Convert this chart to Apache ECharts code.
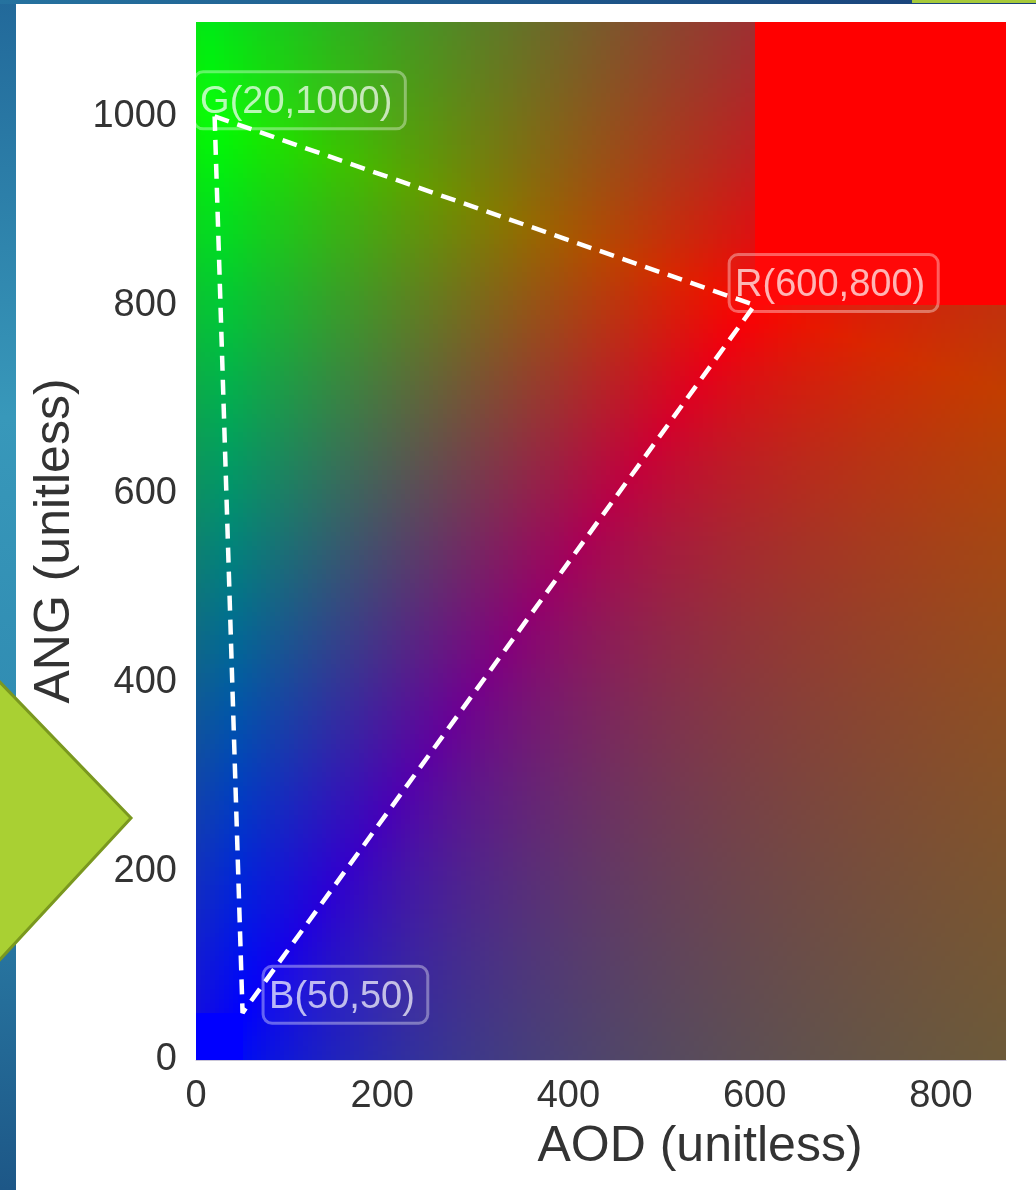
<!DOCTYPE html>
<html>
<head>
<meta charset="utf-8">
<script src="https://cdn.jsdelivr.net/npm/echarts@6/dist/echarts.min.js"></script>
<style>
    html, body { margin: 0; padding: 0; background: #fff; }
    #chart { width: 1036px; height: 1190px; }
</style>
</head>
<body>
<div id="chart"></div>
<script>
    // anchor points of the colour triangle
    const pointNames = ['G', 'R', 'B'];
    const aodValues = [20, 600, 50];
    const angValues = [1000, 800, 50];

    // axis ranges
    const aodMax = 870;
    const angMax = 1100;
    const tickStep = 200;

    const FONT = 'Liberation Sans';
    const CELL = 5;

    // colour of a point from its position relative to G, R, B
    function fieldColor(x, y) {
        const [gx, rx, bx] = aodValues;
        const [gy, ry, by] = angValues;
        if (x >= rx && y >= ry) return 'rgb(255,0,0)';
        if (x <= bx && y <= by) return 'rgb(0,0,255)';
        const det = (rx - bx) * (gy - by) - (ry - by) * (gx - bx);
        const px = x - bx, py = y - by;
        const r = (px * (gy - by) - py * (gx - bx)) / det;
        const g = ((rx - bx) * py - (ry - by) * px) / det;
        const wr = Math.abs(r), wg = Math.abs(g), wb = Math.abs(1 - r - g);
        const s = wr + wg + wb;
        return 'rgb(' + Math.round(255 * wr / s) + ',' + Math.round(255 * wg / s) + ',' + Math.round(255 * wb / s) + ')';
    }

    const cells = [];
    for (let x = 0; x < aodMax; x += CELL) {
        for (let y = 0; y < angMax; y += CELL) {
            cells.push([x, y]);
        }
    }

    const trianglePath = [0, 1, 2, 0].map(i => [aodValues[i], angValues[i]]);

    // label box placement (pixels, relative to the point)
    const labelOffsets = { G: [-20, 13], R: [-25, 7], B: [21, 11] };

    const chart = echarts.init(document.getElementById('chart'));

    const option = {
        animation: false,
        grid: { left: 196, right: 30, top: 22, bottom: 130 },
        xAxis: {
            type: 'value',
            min: 0,
            max: aodMax,
            interval: tickStep,
            name: 'AOD (unitless)',
            nameLocation: 'middle',
            nameGap: 62,
            nameTextStyle: { fontFamily: FONT, fontSize: 50, color: '#333', padding: [0, 0, 0, 198] },
            axisLine: { show: true, lineStyle: { color: '#cac6d8', width: 1 } },
            axisTick: { show: false },
            splitLine: { show: false },
            axisLabel: { fontFamily: FONT, fontSize: 38, color: '#333', margin: 18, showMaxLabel: false, formatter: v => String(v) }
        },
        yAxis: {
            type: 'value',
            min: 0,
            max: angMax,
            interval: tickStep,
            name: 'ANG (unitless)',
            nameLocation: 'middle',
            nameGap: 116,
            nameTextStyle: { fontFamily: FONT, fontSize: 50, color: '#333' },
            axisLine: { show: false },
            axisTick: { show: false },
            splitLine: { show: false },
            axisLabel: { fontFamily: FONT, fontSize: 38, color: '#333', margin: 19, showMaxLabel: false, formatter: v => String(v) }
        },
        series: [
            {
                type: 'custom',
                data: cells,
                progressive: 0,
                silent: true,
                clip: true,
                renderItem: function (params, api) {
                    const x0 = api.value(0);
                    const y0 = api.value(1);
                    const p0 = api.coord([x0, y0 + CELL]);
                    const p1 = api.coord([x0 + CELL, y0]);
                    const left = Math.round(p0[0]);
                    const top = Math.round(p0[1]);
                    return {
                        type: 'rect',
                        shape: { x: left, y: top, width: Math.round(p1[0]) - left, height: Math.round(p1[1]) - top },
                        style: { fill: fieldColor(x0 + CELL / 2, y0 + CELL / 2) }
                    };
                }
            },
            {
                type: 'line',
                data: trianglePath,
                symbol: 'none',
                silent: true,
                z: 5,
                lineStyle: { color: '#ffffff', width: 4.5, type: [15, 9] }
            },
            {
                type: 'scatter',
                symbolSize: 1,
                itemStyle: { color: 'rgba(0,0,0,0)' },
                z: 6,
                data: pointNames.map((n, i) => ({
                    name: n,
                    value: [aodValues[i], angValues[i]],
                    label: { position: labelOffsets[n] }
                })),
                label: {
                    show: true,
                    align: 'left',
                    verticalAlign: 'bottom',
                    formatter: p => p.name + '(' + p.value[0] + ',' + p.value[1] + ')',
                    fontFamily: FONT,
                    fontSize: 38,
                    color: 'rgba(255,255,255,0.88)',
                    padding: [12, 13, 7, 6],
                    borderRadius: 9,
                    borderColor: 'rgba(255,255,255,0.45)',
                    borderWidth: 1.5,
                    backgroundColor: 'rgba(255,255,255,0.04)'
                }
            }
        ],
        graphic: [
            {
                type: 'rect',
                z: 100,
                shape: { x: 0, y: 0, width: 16, height: 1190 },
                style: {
                    fill: new echarts.graphic.LinearGradient(0, 0, 0, 1, [
                        { offset: 0, color: '#22699a' },
                        { offset: 0.35, color: '#3898ba' },
                        { offset: 0.65, color: '#2f8ab1' },
                        { offset: 1, color: '#1d5787' }
                    ])
                }
            },
            {
                type: 'rect',
                z: 100,
                shape: { x: 0, y: 0, width: 1036, height: 4 },
                style: {
                    fill: new echarts.graphic.LinearGradient(0, 0, 1, 0, [
                        { offset: 0, color: '#25729f' },
                        { offset: 1, color: '#183f78' }
                    ])
                }
            },
            {
                type: 'rect',
                z: 101,
                shape: { x: 912, y: 0, width: 124, height: 3 },
                style: { fill: '#a6c93a' }
            },
            {
                type: 'polygon',
                z: 102,
                shape: { points: [[-6, 676], [131, 818], [-6, 966]] },
                style: { fill: '#a9d033', stroke: '#7a981f', lineWidth: 3 }
            }
        ]
    };

    chart.setOption(option);
</script>
</body>
</html>
